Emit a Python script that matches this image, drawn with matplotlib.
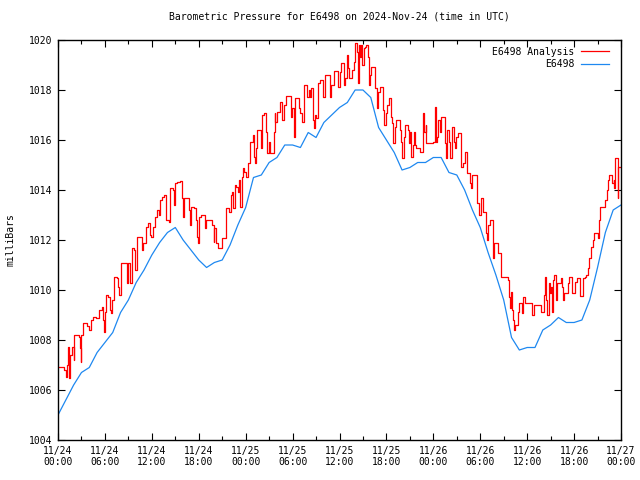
import numpy as np
import matplotlib
matplotlib.use("Agg")
from matplotlib import pyplot as plt

# --- data (hours since 2024-11-24 00:00 UTC) ---
station_hours = list(range(0, 73))
station_mb = [
    1005.0, 1005.6, 1006.2, 1006.7, 1006.9, 1007.5, 1007.9, 1008.3, 1009.1, 1009.6,
    1010.3, 1010.8, 1011.4, 1011.9, 1012.3, 1012.5, 1012.0, 1011.6, 1011.2, 1010.9,
    1011.1, 1011.2, 1011.8, 1012.6, 1013.3, 1014.5, 1014.6, 1015.1, 1015.3, 1015.8,
    1015.8, 1015.7, 1016.3, 1016.1, 1016.7, 1017.0, 1017.3, 1017.5, 1018.0, 1018.0,
    1017.7, 1016.5, 1016.0, 1015.5, 1014.8, 1014.9, 1015.1, 1015.1, 1015.3, 1015.3,
    1014.7, 1014.6, 1014.0, 1013.2, 1012.5, 1011.5, 1010.6, 1009.6, 1008.1, 1007.6,
    1007.7, 1007.7, 1008.4, 1008.6, 1008.9, 1008.7, 1008.7, 1008.8, 1009.6, 1010.9,
    1012.3, 1013.2, 1013.4,
]

analysis_hours = [
    0.0, 0.8, 1.0, 1.1, 1.24, 1.4, 1.5, 1.75, 2.0, 2.1, 2.7, 2.8, 2.9, 3.0, 3.2,
    3.75, 3.96, 4.2, 4.5, 4.8, 5.2, 5.6, 5.8, 5.9, 6.0, 6.1, 6.4, 6.65, 6.8, 6.95,
    7.16, 7.5, 7.7, 7.85, 8.0, 8.1, 8.8, 9.0, 9.2, 9.4, 9.7, 9.85, 10.05, 10.8, 10.9,
    11.2, 11.55, 11.75, 11.9, 12.15, 12.35, 12.7, 12.9, 13.1, 13.3, 13.6, 13.85, 14.15, 14.3,
    14.7, 14.8, 15.0, 15.25, 15.55, 15.9, 16.0, 16.1, 16.75, 16.9, 16.95, 17.45, 17.6, 17.8,
    17.9, 18.0, 18.25, 18.85, 18.95, 19.7, 19.9, 20.0, 20.25, 20.45, 21.0, 21.5, 21.9, 22.1,
    22.25, 22.4, 22.6, 22.8, 23.0, 23.15, 23.3, 23.5, 23.65, 23.85, 24.1, 24.3, 24.5, 24.6,
    24.95, 25.05, 25.2, 25.35, 25.5, 26.0, 26.1, 26.4, 26.6, 26.75, 26.95, 27.15, 27.6, 27.7,
    27.8, 28.0, 28.35, 28.7, 28.85, 29.1, 29.75, 29.9, 30.15, 30.25, 30.8, 30.9, 31.2, 31.45,
    31.85, 32.05, 32.2, 32.4, 32.6, 32.75, 32.9, 33.0, 33.25, 33.45, 33.9, 34.1, 34.8, 34.95,
    35.25, 35.8, 36.0, 36.2, 36.55, 36.75, 36.95, 37.1, 37.2, 37.6, 37.8, 37.95, 38.3, 38.4,
    38.5, 38.65, 38.8, 38.9, 39.1, 39.3, 39.45, 39.6, 39.75, 39.9, 40.05, 40.6, 40.75, 40.9,
    41.15, 41.6, 41.75, 41.9, 42.05, 42.3, 42.55, 42.7, 42.85, 43.05, 43.25, 43.7, 43.8, 43.9,
    44.0, 44.2, 44.35, 44.8, 44.9, 45.05, 45.2, 45.4, 45.5, 45.7, 45.8, 46.25, 46.65, 46.8,
    47.0, 47.1, 47.95, 48.15, 48.3, 48.45, 48.6, 48.8, 49.0, 49.45, 49.6, 49.75, 49.95, 50.1,
    50.4, 50.6, 50.8, 50.9, 51.15, 51.5, 51.6, 51.8, 52.0, 52.35, 52.65, 52.85, 53.0, 53.6,
    53.8, 54.05, 54.4, 54.7, 54.85, 55.0, 55.2, 55.6, 55.75, 56.25, 56.6, 57.5, 57.65, 57.75,
    57.95, 58.1, 58.2, 58.35, 58.5, 58.8, 59.0, 59.35, 59.5, 59.75, 60.5, 60.65, 60.9, 61.75,
    62.1, 62.3, 62.45, 62.6, 62.75, 62.9, 63.0, 63.2, 63.3, 63.45, 63.7, 63.85, 64.3, 64.4,
    64.55, 64.7, 65.2, 65.4, 65.75, 66.1, 66.35, 66.7, 67.15, 67.35, 67.55, 67.75, 67.95, 68.15,
    68.4, 68.6, 69.1, 69.2, 69.35, 70.0, 70.2, 70.35, 70.5, 70.8, 71.05, 71.15, 71.25, 71.6,
    71.65, 72.0,
]
analysis_mb = [
    1006.93, 1006.8, 1006.53, 1007.0, 1007.73, 1006.5, 1007.4, 1007.73, 1007.2, 1008.2, 1008.13, 1007.7, 1007.13, 1008.2, 1008.67,
    1008.56, 1008.4, 1008.8, 1008.93, 1008.87, 1009.2, 1009.33, 1008.8, 1008.33, 1009.13, 1009.8, 1009.73, 1009.2, 1009.07, 1009.6,
    1010.53, 1010.47, 1010.13, 1009.8, 1010.27, 1011.07, 1010.27, 1011.07, 1010.27, 1011.67, 1011.6, 1010.8, 1012.13, 1011.6, 1011.87,
    1012.53, 1012.67, 1012.2, 1012.13, 1012.53, 1012.93, 1013.2, 1013.0, 1013.6, 1013.73, 1013.8, 1012.8, 1012.73, 1014.07,
    1014.0, 1013.4, 1014.27, 1014.33, 1014.37, 1013.67, 1012.93, 1013.67, 1013.2, 1012.6, 1013.33, 1013.3, 1012.8, 1012.13,
    1011.87, 1012.93, 1013.0, 1012.47, 1012.8, 1012.6, 1011.93, 1012.47, 1011.87, 1011.67, 1012.07, 1013.27, 1013.13, 1013.8,
    1013.93, 1013.3, 1014.2, 1014.13, 1013.93, 1014.4, 1013.33, 1014.53, 1014.87, 1014.73, 1014.53, 1015.07, 1015.6, 1015.93,
    1016.2, 1015.33, 1015.07, 1015.67, 1016.4, 1015.67, 1017.0, 1017.1, 1016.33, 1015.47, 1015.93, 1015.5, 1016.33, 1017.07,
    1016.73, 1017.13, 1017.53, 1016.8, 1017.4, 1017.76, 1016.93, 1017.27, 1016.13, 1017.67, 1017.3, 1017.07, 1016.73, 1018.2,
    1017.73, 1018.0, 1017.73, 1018.07, 1016.8, 1016.47, 1017.0, 1016.87, 1018.27, 1018.4, 1017.73, 1018.6, 1017.73, 1018.2,
    1018.76, 1018.13, 1018.73, 1019.07, 1018.2, 1018.47, 1019.4, 1018.9, 1018.47, 1018.8, 1019.13, 1019.87, 1019.53, 1018.27,
    1019.8, 1019.33, 1019.8, 1019.0, 1019.67, 1019.73, 1019.8, 1019.33, 1018.2, 1018.6, 1018.93, 1018.07, 1017.27, 1017.93,
    1018.13, 1017.2, 1016.6, 1017.07, 1017.4, 1017.67, 1016.93, 1016.67, 1015.87, 1016.53, 1016.8, 1016.6, 1016.4, 1015.93,
    1015.27, 1016.13, 1016.6, 1016.4, 1015.87, 1016.33, 1015.33, 1015.8, 1016.33, 1015.8, 1015.67, 1015.53, 1017.1, 1016.33,
    1016.6, 1015.87, 1015.93, 1017.33, 1015.93, 1016.13, 1016.8, 1016.33, 1016.93, 1015.87, 1015.27, 1016.4, 1015.93, 1015.27,
    1016.53, 1015.93, 1015.67, 1016.13, 1016.27, 1015.4, 1014.93, 1015.1, 1015.53, 1014.67, 1014.27, 1014.07, 1014.6, 1013.47,
    1013.0, 1013.67, 1013.13, 1012.27, 1012.0, 1012.6, 1012.8, 1011.27, 1011.87, 1011.47, 1010.53, 1010.4, 1009.73, 1009.27,
    1009.93, 1009.2, 1008.8, 1008.4, 1008.6, 1009.13, 1009.47, 1009.07, 1009.73, 1009.47, 1009.47, 1009.0, 1009.4, 1009.13,
    1009.8, 1010.53, 1009.6, 1009.0, 1010.27, 1009.87, 1010.13, 1009.13, 1010.4, 1010.6, 1009.6, 1010.27, 1010.47, 1010.13,
    1009.6, 1009.87, 1010.27, 1010.53, 1009.87, 1010.33, 1010.47, 1009.76, 1010.47, 1010.53, 1010.6, 1010.87, 1011.27, 1011.73,
    1012.0, 1012.27, 1012.07, 1012.8, 1013.33, 1013.6, 1014.0, 1014.4, 1014.6, 1014.27, 1014.4, 1014.1, 1015.27, 1013.67,
    1014.93, 1014.93,
]

tick_hours = list(range(0, 73, 6))
tick_labels = ["11/24\n00:00", "11/24\n06:00", "11/24\n12:00", "11/24\n18:00",
               "11/25\n00:00", "11/25\n06:00", "11/25\n12:00", "11/25\n18:00",
               "11/26\n00:00", "11/26\n06:00", "11/26\n12:00", "11/26\n18:00",
               "11/27\n00:00"]

plt.rcParams['font.family'] = ['DejaVu Sans Mono']
plt.rcParams['font.size'] = 7

fig = plt.figure(figsize=(6.4, 4.8), dpi=100)
ax = fig.add_axes([58 / 640, 1 - 440 / 480, (621 - 58) / 640, 400 / 480])

ax.plot(analysis_hours, analysis_mb, color='#ff0000', lw=0.9,
        drawstyle='steps-post', label='E6498 Analysis')
ax.plot(station_hours, station_mb, color='#1e88f0', lw=0.9, label='E6498')

ax.set_xlim(0, 72)
ax.set_ylim(1004, 1020)
ax.set_xticks(tick_hours)
ax.set_xticklabels(tick_labels)
ax.set_xticks(range(3, 72, 6), minor=True)
ax.set_yticks(range(1004, 1021, 2))
ax.tick_params(which='both', direction='in', top=True, right=True, length=5, width=0.8, pad=4)
ax.tick_params(which='minor', length=3)
for s in ax.spines.values():
    s.set_linewidth(1.0)

ax.set_title("Barometric Pressure for E6498 on 2024-Nov-24 (time in UTC)", fontsize=7, pad=15)
ax.set_ylabel("milliBars", labelpad=10)

ax.legend(loc='upper right', bbox_to_anchor=(0.991, 1.0), frameon=False, markerfirst=False,
          handlelength=2.9, handletextpad=0.7, labelspacing=0.25, borderaxespad=0.3, fontsize=7)

fig.savefig("out.png", dpi=100)
